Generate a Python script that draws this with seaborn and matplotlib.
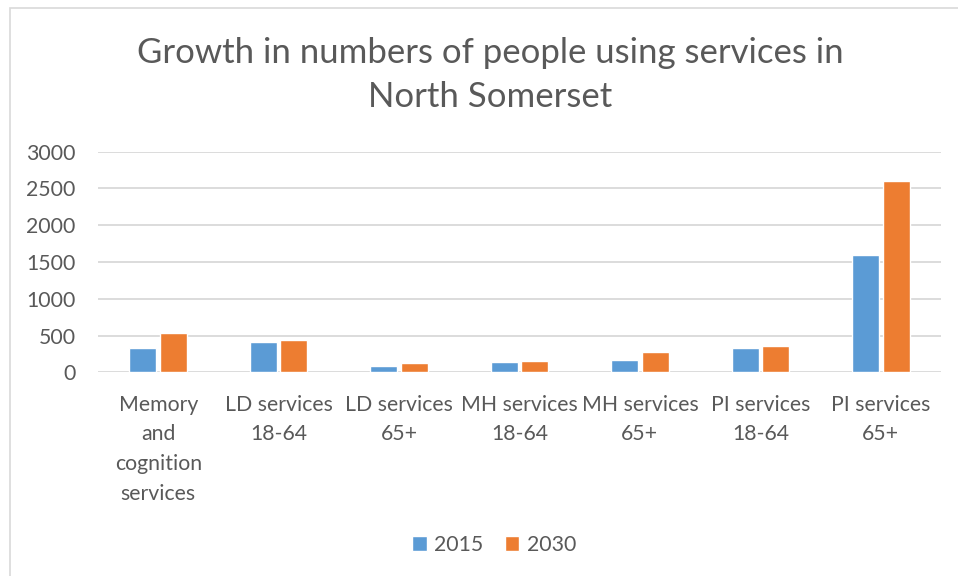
import matplotlib
matplotlib.use("Agg")
import matplotlib.pyplot as plt
from matplotlib.patches import Rectangle
import pandas as pd
import seaborn as sns

categories = [
    "Memory\nand\ncognition\nservices",
    "LD services\n18-64",
    "LD services\n65+",
    "MH services\n18-64",
    "MH services\n65+",
    "PI services\n18-64",
    "PI services\n65+",
]
values_2015 = [325, 410, 85, 145, 170, 330, 1600]
values_2030 = [530, 440, 130, 160, 270, 355, 2600]
years = ["2015", "2030"]
yticks = [0, 500, 1000, 1500, 2000, 2500, 3000]

df = pd.DataFrame({
    "category": categories * 2,
    "year": [years[0]] * len(categories) + [years[1]] * len(categories),
    "value": values_2015 + values_2030,
})

sns.set_theme(style="white")
plt.rcParams["font.family"] = ["Lato", "DejaVu Sans"]

TEXT = "#595959"
GRID = "#D9D9D9"
palette = {"2015": "#5B9BD5", "2030": "#ED7D31"}
FS = 15.3

W, H = 958, 576
fig = plt.figure(figsize=(W / 100, H / 100), dpi=100)
fig.patch.set_facecolor("white")

# chart frame (left and top edges visible)
fig.add_artist(Rectangle((10 / W, -0.1), 1.2, 1.1 - 8 / H,
                         transform=fig.transFigure, fill=False,
                         edgecolor=GRID, linewidth=1.2))

ax = fig.add_axes([98 / W, 1 - 372.3 / H, (941 - 98) / W, (372.3 - 151.7) / H])
sns.barplot(data=df, x="category", y="value", hue="year", palette=palette,
            width=0.507, gap=0.115, saturation=1, ax=ax, legend=True)

ax.set_ylim(0, 3000)
ax.set_xlim(-0.5, len(categories) - 0.5)
ax.set_yticks(yticks)
ax.set_yticklabels([str(t) for t in yticks])
ax.yaxis.grid(True, color=GRID, linewidth=1.3)
ax.set_axisbelow(True)
for s in ax.spines.values():
    s.set_visible(False)
ax.set_xlabel("")
ax.set_ylabel("")
ax.tick_params(axis="y", length=0, pad=16, labelsize=FS, labelcolor=TEXT)
ax.tick_params(axis="x", length=0, pad=16, labelsize=FS, labelcolor=TEXT)
for lbl in ax.get_xticklabels():
    lbl.set_linespacing(1.62)
    lbl.set_va("top")

handles, labels = ax.get_legend_handles_labels()
ax.legend_.remove()
fig.legend(handles, labels, loc="center", bbox_to_anchor=(494 / W, 1 - 545 / H),
           ncol=2, frameon=False, fontsize=FS, labelcolor=TEXT,
           handlelength=0.7, handleheight=0.7, handletextpad=0.35,
           columnspacing=1.0)

fig.text(490 / W, 1 - 75 / H,
         "Growth in numbers of people using services in\nNorth Somerset",
         ha="center", va="center", fontsize=25, color=TEXT, linespacing=1.45)

fig.savefig("out.png", dpi=100, facecolor="white")
